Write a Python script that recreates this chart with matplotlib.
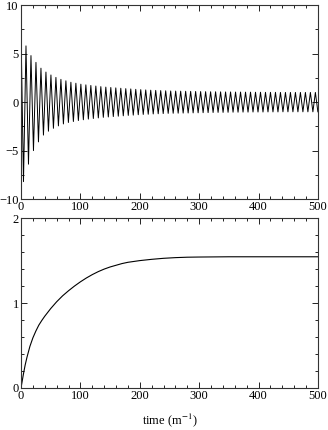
import matplotlib.pyplot as plt
from matplotlib.ticker import MultipleLocator

plt.rcParams['font.family'] = ['Liberation Serif', 'DejaVu Serif']
plt.rcParams['mathtext.fontset'] = 'stix'

# top panel: successive extrema of the oscillation (time, value)
osc_t = [0.0, 4.2, 8.4, 12.6, 16.8, 21.0, 25.2, 29.4, 33.6, 37.8,
         42.0, 46.2, 50.4, 54.6, 58.8, 63.0, 67.2, 71.4, 75.6, 79.8,
         84.0, 88.2, 92.4, 96.6, 100.8, 105.0, 109.2, 113.4, 117.6, 121.8,
         126.0, 130.2, 134.4, 138.6, 142.8, 147.0, 151.2, 155.4, 159.6, 163.8,
         168.0, 172.2, 176.4, 180.6, 184.8, 189.0, 193.2, 197.4, 201.6, 205.8,
         210.0, 214.2, 218.4, 222.6, 226.8, 231.0, 235.2, 239.4, 243.6, 247.8,
         252.0, 256.2, 260.4, 264.6, 268.8, 273.0, 277.2, 281.4, 285.6, 289.8,
         294.0, 298.2, 302.4, 306.6, 310.8, 315.0, 319.2, 323.4, 327.6, 331.8,
         336.0, 340.2, 344.4, 348.6, 352.8, 357.0, 361.2, 365.4, 369.6, 373.8,
         378.0, 382.2, 386.4, 390.6, 394.8, 399.0, 403.2, 407.4, 411.6, 415.8,
         420.0, 424.2, 428.4, 432.6, 436.8, 441.0, 445.2, 449.4, 453.6, 457.8,
         462.0, 466.2, 470.4, 474.6, 478.8, 483.0, 487.2, 491.4, 495.6, 499.8]
osc_v = [7.5, -8.2, 5.8, -6.4, 4.8, -5.0, 4.1, -4.1, 3.5, -3.4,
         3.1, -3.0, 2.8, -2.7, 2.55, -2.45, 2.35, -2.25, 2.2, -2.1,
         2.05, -2.0, 1.95, -1.9, 1.85, -1.82, 1.78, -1.75, 1.72, -1.69,
         1.66, -1.63, 1.6, -1.57, 1.55, -1.53, 1.51, -1.49, 1.47, -1.45,
         1.43, -1.41, 1.39, -1.37, 1.36, -1.34, 1.32, -1.30, 1.29, -1.27,
         1.26, -1.25, 1.23, -1.22, 1.21, -1.20, 1.19, -1.18, 1.17, -1.16,
         1.15, -1.15, 1.14, -1.14, 1.13, -1.13, 1.12, -1.12, 1.11, -1.11,
         1.10, -1.10, 1.09, -1.09, 1.08, -1.08, 1.07, -1.07, 1.07, -1.06,
         1.06, -1.06, 1.05, -1.05, 1.05, -1.04, 1.04, -1.04, 1.04, -1.03,
         1.03, -1.03, 1.03, -1.02, 1.02, -1.02, 1.02, -1.02, 1.01, -1.01,
         1.01, -1.01, 1.01, -1.01, 1.0, -1.0, 1.0, -1.0, 1.0, -1.0,
         1.0, -1.0, 1.0, -1.0, 1.0, -1.0, 1.0, -1.0, 1.0, -1.0]

# bottom panel: rising curve
rise_t = [0, 2, 4, 7, 10, 15, 20, 25, 30, 35, 40, 45, 50, 60, 70, 80, 90,
          100, 110, 120, 130, 140, 150, 160, 170, 180, 190, 200, 220, 240,
          260, 280, 300, 350, 400, 450, 500]
rise_v = [0, 0.08, 0.16, 0.27, 0.36, 0.49, 0.59, 0.67, 0.74, 0.795, 0.845,
          0.89, 0.935, 1.015, 1.085, 1.145, 1.2, 1.25, 1.295, 1.335, 1.37,
          1.40, 1.425, 1.445, 1.465, 1.48, 1.49, 1.50, 1.515, 1.527,
          1.535, 1.54, 1.542, 1.545, 1.545, 1.545, 1.545]

fig = plt.figure(figsize=(3.28, 4.30), dpi=100)
ax1 = fig.add_axes([0.064, 0.537, 0.9055, 0.451])
ax2 = fig.add_axes([0.064, 0.0977, 0.9055, 0.395])

ax1.plot(osc_t, osc_v, color='black', lw=0.7)
ax2.plot(rise_t, rise_v, color='black', lw=0.8)

ax1.set_xlim(0, 500)
ax1.set_ylim(-10, 10)
ax1.yaxis.set_major_locator(MultipleLocator(5))
ax1.yaxis.set_minor_locator(MultipleLocator(2.5))

ax2.set_xlim(0, 500)
ax2.set_ylim(0, 2)
ax2.yaxis.set_major_locator(MultipleLocator(1))
ax2.yaxis.set_minor_locator(MultipleLocator(0.2))

for ax in (ax1, ax2):
    ax.xaxis.set_major_locator(MultipleLocator(100))
    ax.xaxis.set_minor_locator(MultipleLocator(20))
    ax.tick_params(which='both', direction='in', top=True, right=True,
                   width=0.6, labelsize=9, pad=1.5)
    ax.tick_params(which='major', length=4.5)
    ax.tick_params(which='minor', length=2.3)
    for s in ax.spines.values():
        s.set_linewidth(0.8)
        s.set_color('#333333')

ax2.set_xlabel('time (m$^{-1}$)', fontsize=9, labelpad=7)

fig.savefig('out.png', dpi=100)
